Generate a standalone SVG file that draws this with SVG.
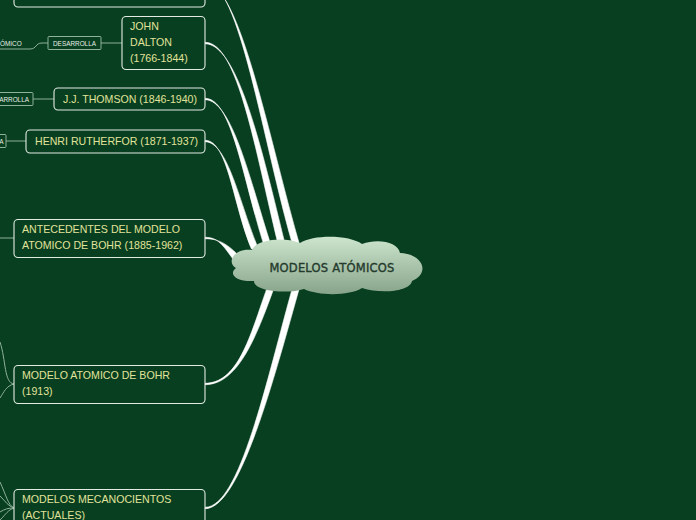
<svg xmlns="http://www.w3.org/2000/svg" width="696" height="520" viewBox="0 0 696 520">
<defs>
<linearGradient id="cg" x1="0" y1="0" x2="0" y2="1">
<stop offset="0" stop-color="#cde5cd"/>
<stop offset="1" stop-color="#87a48a"/>
</linearGradient>
<style>
.box{fill:#073f20;stroke:#e3ebe3;stroke-width:1.1}
.t{font-family:"Liberation Sans",Arial,sans-serif;font-size:10.6px;fill:#e2e39b}
.sbox{fill:#073f20;stroke:#8fb29a;stroke-width:1}
.st{font-family:"Liberation Sans",Arial,sans-serif;font-size:6.4px;fill:#e8efe8}
.thin{fill:none;stroke:#8fb29a;stroke-width:1}
.con{fill:#ffffff;stroke:#ffffff;stroke-width:0.6}
.ct{font-family:"DejaVu Sans",sans-serif;font-size:11.5px;fill:#243a2c;stroke:#243a2c;stroke-width:0.35;letter-spacing:0.2px}
</style>
</defs>
<rect width="696" height="520" fill="#073f20"/>

<g id="connectors">
<path class="con" d="M205,-18.7 C240,-18.7 262,140 293.5,248 L300.5,248 C269,140 240,-17.3 205,-17.3 Z"/>
<path class="con" d="M205,42.3 C238,42.3 255,150 278.5,246 L285.5,246 C262,150 238,43.7 205,43.7 Z"/>
<path class="con" d="M205,98.3 C232,98.3 243,180 264.5,247 L271.5,247 C250,180 232,99.7 205,99.7 Z"/>
<path class="con" d="M205,140.3 C228,140.3 233,205 251.5,249 L258.5,249 C240,205 228,141.7 205,141.7 Z"/>
<path class="con" d="M205,237.3 C218,237.3 223,245 235,262 L241,258 C227,243 218,238.7 205,238.7 Z"/>
<path class="con" d="M205,383.3 C240,383.3 251.5,330 268.5,284 L275.5,284 C258.5,330 240,384.7 205,384.7 Z"/>
<path class="con" d="M205,507.3 C240,507.3 266.5,380 293.5,284 L300.5,284 C273.5,380 240,508.7 205,508.7 Z"/>
<path class="thin" d="M101,43 L122,43"/>
<path class="thin" d="M0,49 L30,49 C37,49 35,43 42,43 L48,43"/>
<path class="thin" d="M33,99 L54,99"/>
<path class="thin" d="M6,141 L26,141"/>
<path class="thin" d="M0,238 L14,238"/>
<path class="thin" d="M0,342 C6,360 4,383 14,384"/>
<path class="thin" d="M14,384 C6,386 4,392 0,398"/>
<path class="thin" d="M0,482 C6,495 8,505 14,508"/>
<path class="thin" d="M0,496 C6,502 8,506 14,508"/>
<path class="thin" d="M0,512 C5,509 8,508 14,508"/>
<path class="thin" d="M0,520 C6,514 8,510 14,508"/>
</g>

<g id="central">
<path d="M236,268 C226,262 234,248 252,250 C256,240 282,236 300,243 C314,234 350,235 362,244 C378,238 398,242 400,253 C424,254 430,274 412,281 C410,292 380,294 362,288 C350,296 318,296 304,289 C290,294 254,292 254,281 C236,282 228,274 236,268 Z" fill="url(#cg)"/>
<text class="ct" x="332" y="272" text-anchor="middle">MODELOS ATÓMICOS</text>
</g>

<g id="node-top">
<rect class="box" x="14" y="-30" width="191" height="37" rx="4"/>
</g>

<g id="node-dalton">
<rect class="box" x="122" y="16.5" width="83" height="53" rx="4"/>
<text class="t" x="130" y="30">JOHN</text>
<text class="t" x="130" y="46">DALTON</text>
<text class="t" x="130" y="61.5">(1766-1844)</text>
</g>

<g id="node-desarrolla1">
<rect class="sbox" x="48" y="36.5" width="53" height="13" rx="1"/>
<text class="st" x="74.5" y="45.5" text-anchor="middle">DESARROLLA</text>
</g>
<g id="node-omico">
<text class="st" x="0" y="45.5">ÓMICO</text>
</g>

<g id="node-thomson">
<rect class="box" x="54" y="88" width="151" height="22" rx="4"/>
<text class="t" x="63" y="103">J.J. THOMSON (1846-1940)</text>
</g>
<g id="node-desarrolla2">
<rect class="sbox" x="-20" y="92.5" width="53" height="13" rx="1"/>
<text class="st" x="29" y="101.5" text-anchor="end">DESARROLLA</text>
</g>

<g id="node-rutherford">
<rect class="box" x="26" y="130" width="179" height="23" rx="4"/>
<text class="t" x="35" y="145">HENRI RUTHERFOR (1871-1937)</text>
</g>
<g id="node-desarrolla3">
<rect class="sbox" x="-47" y="134.5" width="53" height="13" rx="1"/>
<text class="st" x="3.5" y="143.5" text-anchor="end">DESARROLLA</text>
</g>

<g id="node-antecedentes">
<rect class="box" x="14" y="219.5" width="191" height="38" rx="4"/>
<text class="t" x="22" y="233">ANTECEDENTES DEL MODELO</text>
<text class="t" x="22" y="248.5">ATOMICO DE BOHR (1885-1962)</text>
</g>

<g id="node-bohr">
<rect class="box" x="14" y="365.5" width="191" height="38" rx="4"/>
<text class="t" x="22" y="378.5">MODELO ATOMICO DE BOHR</text>
<text class="t" x="22" y="394.5">(1913)</text>
</g>

<g id="node-mecanocientos">
<rect class="box" x="14" y="489.5" width="191" height="38" rx="4"/>
<text class="t" x="22" y="502.5">MODELOS MECANOCIENTOS</text>
<text class="t" x="22" y="518.5">(ACTUALES)</text>
</g>
</svg>
